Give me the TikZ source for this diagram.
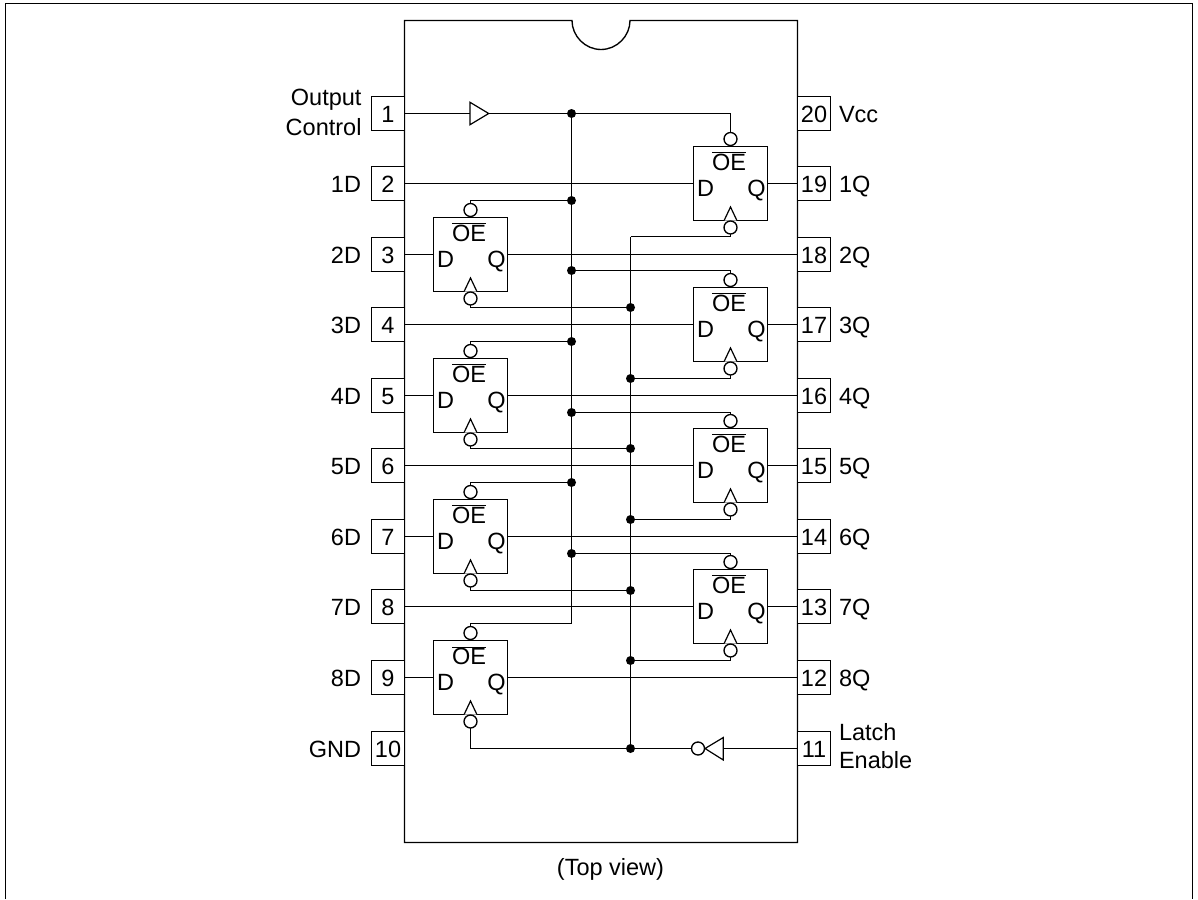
\documentclass[tikz,border=0pt]{standalone}
\usepackage{fontspec}
\setmainfont{Liberation Sans}
\usetikzlibrary{calc}
\begin{document}
\begin{tikzpicture}[x=1pt,y=-1pt,
  line width=1.35pt,
  every node/.style={inner sep=0pt,outer sep=0pt},
  txt/.style={font=\fontsize{23.5}{28}\selectfont},
  pinbox/.style={draw,fill=white,txt,minimum width=33pt,minimum height=34pt,anchor=center,text height=18.6pt,text depth=0pt},
  leftlabel/.style={txt,anchor=base east},
  rightlabel/.style={txt,anchor=base west},
  twoline/.style={txt},
  ffbox/.style={draw,minimum size=74pt,anchor=center},
  bubble/.style={draw,fill=white,circle,minimum size=13pt},
  junction/.style={fill=black,circle,minimum size=9pt},
  wire/.style={line width=1.35pt},
  gatetri/.style={line width=1.2pt,line join=miter,fill=white}
]
\useasboundingbox (0,0) rectangle (1198,899);
% frame
\draw[line width=1.6pt] (5.5,899) -- (5.5,3.5) -- (1192.5,3.5) -- (1192.5,899);
% package
\draw (404.5,20.5) -- (572,20.5) .. controls (572,36) and (585,49.5) .. (601,49.5)
      .. controls (617,49.5) and (630,36) .. (630,20.5) -- (797.5,20.5) -- (797.5,842.5) -- (404.5,842.5) -- cycle;
% pins and their labels
\foreach \n/\y/\lab in {2/183.5/1D,3/254.5/2D,4/324.5/3D,5/395.5/4D,6/465.5/5D,7/536.5/6D,8/606.5/7D,9/677.5/8D,10/748.5/GND}{
  \node[pinbox] (p\n) at (388,\y) {\n};
  \node[leftlabel] (l\n) at ($(361,\y)+(0,8.8)$) {\lab};
}
\node[pinbox] (p1) at (388,113.5) {1};
\node[twoline,anchor=east,align=right] (l1) at (361.5,112) {Output\\[2pt]Control};
\foreach \n/\y/\lab in {20/113.5/Vcc,19/183.5/1Q,18/254.5/2Q,17/324.5/3Q,16/395.5/4Q,15/465.5/5Q,14/536.5/6Q,13/606.5/7Q,12/677.5/8Q}{
  \node[pinbox] (p\n) at (814,\y) {\n};
  \node[rightlabel] (l\n) at ($(839,\y)+(0,8.8)$) {\lab};
}
\node[pinbox] (p11) at (814,748.5) {11};
\node[twoline,anchor=west,align=left] (l11) at (839,746) {Latch\\Enable};
% flip-flops: number / centre x / centre y
\foreach \i/\x/\y in {1/730.5/183.5,2/470.5/254.5,3/730.5/324.5,4/470.5/395.5,5/730.5/465.5,6/470.5/536.5,7/730.5/606.5,8/470.5/677.5}{
  \node[ffbox] (f\i) at (\x,\y) {};
  \node[txt,anchor=base] (oe\i) at ($(\x,\y)+(-1.5,-13)$) {$\overline{\mbox{OE}}$};
  \node[txt,anchor=base] (d\i) at ($(\x,\y)+(-25,12.5)$) {D};
  \node[txt,anchor=base] (q\i) at ($(\x,\y)+(26,12.5)$) {Q};
  \draw[gatetri] ($(\x,\y)+(-6.4,37)$) -- ($(\x,\y)+(0,23.5)$) -- ($(\x,\y)+(6.4,37)$);
  \node[bubble] (t\i) at ($(\x,\y)+(0,-44.5)$) {};
  \node[bubble] (b\i) at ($(\x,\y)+(0,44)$) {};
}
% buses
\node[junction] (je1) at (571.5,113.5) {};
\coordinate (je8) at (571.5,623.5);
\node[junction] (jl1) at (630.5,307.5) {};
\coordinate (jl0) at (630.5,236.5);
\node[junction] (jl8) at (630.5,748.5) {};
\draw[wire] (je1.center) -- (je8);
\draw[wire] (jl0) -- (jl8.center);
% output-enable junctions
\node[junction] (je2) at (571.5,200.5) {};
\node[junction] (je3) at (571.5,270.5) {};
\node[junction] (je4) at (571.5,341.5) {};
\node[junction] (je5) at (571.5,412.5) {};
\node[junction] (je6) at (571.5,482.5) {};
\node[junction] (je7) at (571.5,553.5) {};
\draw[wire] (t1.north) |- (je1);
\draw[wire] (t2.north) |- (je2);
\draw[wire] (t3.north) |- (je3);
\draw[wire] (t4.north) |- (je4);
\draw[wire] (t5.north) |- (je5);
\draw[wire] (t6.north) |- (je6);
\draw[wire] (t7.north) |- (je7);
\draw[wire] (t8.north) |- (je8);
% latch-enable junctions
\node[junction] (jl2) at (630.5,378.5) {};
\node[junction] (jl3) at (630.5,448.5) {};
\node[junction] (jl4) at (630.5,519.5) {};
\node[junction] (jl5) at (630.5,590.5) {};
\node[junction] (jl6) at (630.5,660.5) {};
\draw[wire] (b1.south) |- (jl0);
\draw[wire] (b2.south) |- (jl1);
\draw[wire] (b3.south) |- (jl2);
\draw[wire] (b4.south) |- (jl3);
\draw[wire] (b5.south) |- (jl4);
\draw[wire] (b6.south) |- (jl5);
\draw[wire] (b7.south) |- (jl6);
\draw[wire] (b8.south) |- (jl8);
% data wires
\draw[wire] (p2.east) -- (f1.west);
\draw[wire] (p3.east) -- (f2.west);
\draw[wire] (p4.east) -- (f3.west);
\draw[wire] (p5.east) -- (f4.west);
\draw[wire] (p6.east) -- (f5.west);
\draw[wire] (p7.east) -- (f6.west);
\draw[wire] (p8.east) -- (f7.west);
\draw[wire] (p9.east) -- (f8.west);
\draw[wire] (f1.east) -- (p19.west);
\draw[wire] (f2.east) -- (p18.west);
\draw[wire] (f3.east) -- (p17.west);
\draw[wire] (f4.east) -- (p16.west);
\draw[wire] (f5.east) -- (p15.west);
\draw[wire] (f6.east) -- (p14.west);
\draw[wire] (f7.east) -- (p13.west);
\draw[wire] (f8.east) -- (p12.west);
% output-control buffer
\coordinate (bufin) at (470,113.5);
\coordinate (bufout) at (488.7,113.5);
\draw[wire] (p1.east) -- (bufin);
\draw[wire] (bufout) -- (je1);
\draw[gatetri] (bufout) -- (470,102.3) -- (470,124.7) -- cycle;
% latch-enable inverter
\coordinate (invin) at (723.3,748.5);
\coordinate (invout) at (705,748.5);
\node[bubble] (invb) at (698,748.5) {};
\draw[wire] (p11.west) -- (invin);
\draw[wire] (invb.west) -- (jl8);
\draw[gatetri] (invout) -- (723.3,737.5) -- (723.3,760) -- cycle;
% caption
\node[txt,anchor=base] (cap) at (610.5,875) {(Top view)};
\end{tikzpicture}
\end{document}
